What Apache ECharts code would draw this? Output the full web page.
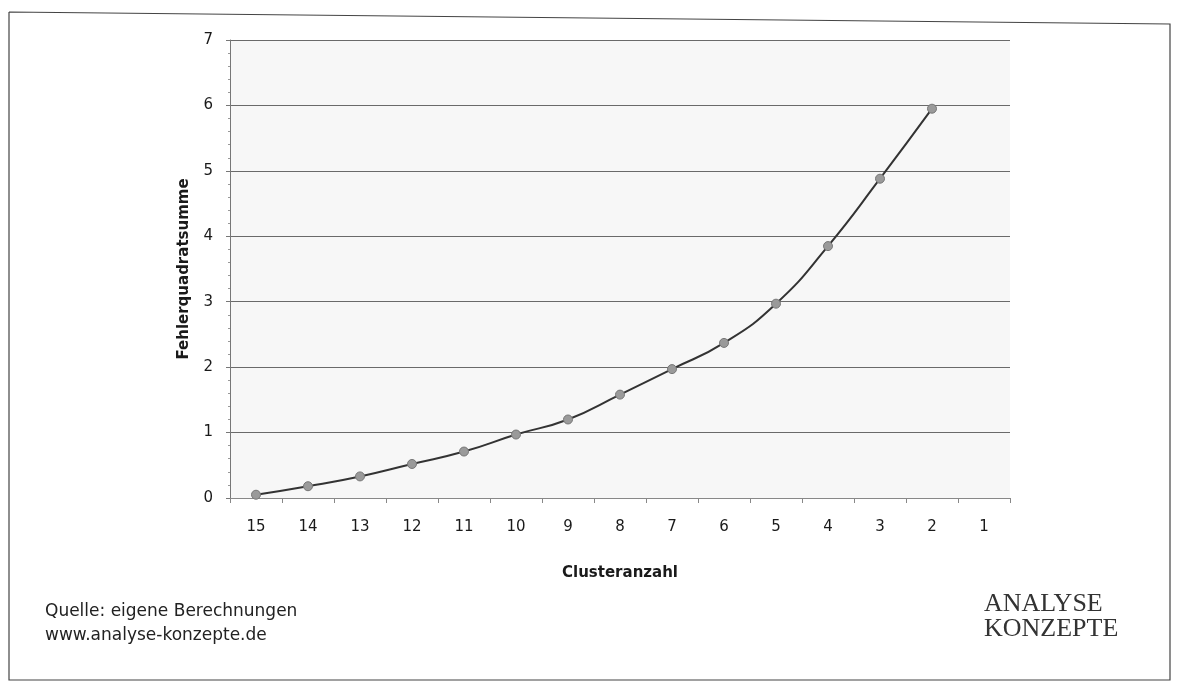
<!DOCTYPE html>
<html><head><meta charset="utf-8">
<script src="https://cdn.jsdelivr.net/npm/echarts@6/dist/echarts.min.js"></script>
<style>html,body{margin:0;padding:0;background:#fff}#c{width:1181px;height:689px}</style>
</head><body><div id="c"></div>
<script>
const categories = ['15','14','13','12','11','10','9','8','7','6','5','4','3','2','1'];
const fehlerquadratsumme = [0.05,0.18,0.33,0.52,0.71,0.97,1.2,1.58,1.97,2.37,2.97,3.85,4.88,5.95,null];
const yTicks = [0,1,2,3,4,5,6,7];
const sourceLines = ['Quelle: eigene Berechnungen','www.analyse-konzepte.de'];
const logoLines = ['ANALYSE','KONZEPTE'];

const chart = echarts.init(document.getElementById('c'), null, {renderer:'canvas'});
chart.setOption({
  backgroundColor:'#ffffff',
  animation:false,
  grid:{left:230,top:40,width:780,height:458,backgroundColor:'#f7f7f7',show:true,borderWidth:0},
  xAxis:{type:'category',data:categories,boundaryGap:true,
    name:'Clusteranzahl',nameLocation:'middle',nameGap:68,
    nameTextStyle:{fontFamily:'DejaVu Sans',fontWeight:'bold',fontSize:15,color:'#1a1a1a'},
    axisLine:{lineStyle:{color:'#888',width:1}},
    axisTick:{show:true,length:5,lineStyle:{color:'#888'}},
    axisLabel:{fontFamily:'DejaVu Sans',fontSize:15,color:'#1a1a1a',margin:22}},
  yAxis:{type:'value',min:0,max:7,interval:1,
    name:'Fehlerquadratsumme',nameLocation:'middle',nameGap:38,
    nameTextStyle:{fontFamily:'DejaVu Sans',fontWeight:'bold',fontSize:15,color:'#1a1a1a'},
    axisLine:{show:true,lineStyle:{color:'#777'}},
    axisTick:{show:true,length:4,lineStyle:{color:'#777'}},
    minorTick:{show:true,splitNumber:5,length:2,lineStyle:{color:'#999'}},
    axisLabel:{fontFamily:'DejaVu Sans',fontSize:15,color:'#1a1a1a',margin:17,
      formatter:v=>yTicks.includes(v)?String(v):''},
    splitLine:{lineStyle:{color:'#6a6a6a',width:1}}},
  series:[{type:'line',data:fehlerquadratsumme,smooth:true,
    lineStyle:{color:'#333',width:2},
    symbol:'circle',symbolSize:9,
    itemStyle:{color:'#9a9a9a',borderColor:'#777',borderWidth:1}}],
  graphic:[
    {type:'polyline',shape:{points:[[9,12],[1170,24],[1170,680],[9,680],[9,12]]},style:{stroke:'#444',lineWidth:1.2,fill:null}},
    {type:'text',left:45,top:600,style:{text:sourceLines.join('\n'),font:'17px "DejaVu Sans"',fill:'#222',lineHeight:24}},
    {type:'text',left:984,top:591,style:{text:logoLines.join('\n'),font:'26px "Liberation Serif"',fill:'#333',lineHeight:25}}
  ]
});
</script></body></html>
